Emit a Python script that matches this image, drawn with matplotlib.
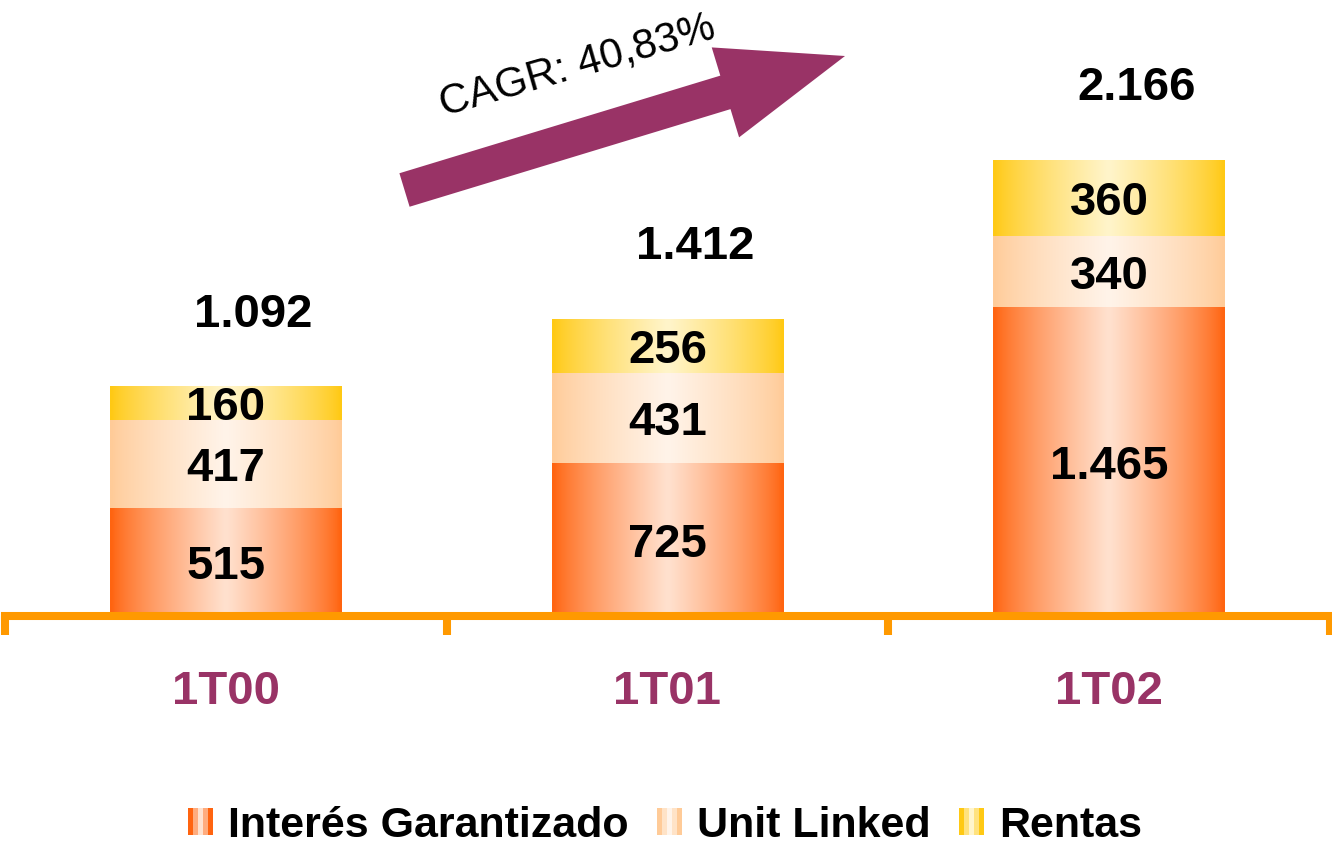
import matplotlib.pyplot as plt
import numpy as np
from matplotlib.patches import FancyArrow, Rectangle
from matplotlib.legend_handler import HandlerBase
from matplotlib.colors import to_rgb

plt.rcParams["font.family"] = "sans-serif"
plt.rcParams["font.sans-serif"] = ["Liberation Sans"]

quarters = ["1T00", "1T01", "1T02"]
garantizado = [515, 725, 1465]
unit_linked = [417, 431, 340]
rentas = [160, 256, 360]
totales = [1092, 1412, 2166]
cagr_text = "CAGR: 40,83%"

# name, values, edge colour, centre colour
series = [
    ("Interés Garantizado", garantizado, "#FF6410", "#FFE2D0"),
    ("Unit Linked", unit_linked, "#FFCB98", "#FFF4EA"),
    ("Rentas", rentas, "#FFC914", "#FFF5CC"),
]

PURPLE = "#993366"
ORANGE = "#FF9900"


def fmt(v):
    return f"{v:,}".replace(",", ".")


def gradient(edge, center, n=64):
    t = np.linspace(0, 1, n)
    s = (1 - np.abs(2 * t - 1)) ** 0.8
    e = np.array(to_rgb(edge))
    c = np.array(to_rgb(center))
    return e[None, :] + (c - e)[None, :] * s[:, None]


class GradientHandler(HandlerBase):
    def __init__(self, stripes):
        super().__init__()
        self.stripes = stripes

    def create_artists(self, legend, orig_handle, xdescent, ydescent,
                       width, height, fontsize, trans):
        n = len(self.stripes)
        w = width / n
        return [Rectangle((-xdescent + i * w, -ydescent), w, height,
                          facecolor=c, edgecolor="none", transform=trans)
                for i, c in enumerate(self.stripes)]


fig = plt.figure(figsize=(13.32, 8.47), dpi=100)
ax = fig.add_axes([5 / 1332, 231 / 847, 1325 / 1332, 616 / 847])

x = np.arange(len(quarters))
bottom = np.zeros(len(quarters))
handles, labels, hmap = [], [], {}
for name, vals, edge, center in series:
    bars = ax.bar(x, vals, 0.525, bottom=bottom, color=edge, linewidth=0, zorder=1)
    grad = gradient(edge, center)[None, :, :]
    for b in bars:
        ax.imshow(grad, extent=[b.get_x(), b.get_x() + b.get_width(),
                                b.get_y(), b.get_y() + b.get_height()],
                  aspect="auto", interpolation="bilinear", zorder=2)
    for xi, b0, v in zip(x, bottom, vals):
        ax.text(xi, b0 + v / 2, fmt(v), ha="center", va="center_baseline",
                fontsize=34, fontweight="bold", zorder=4)
    bottom = bottom + np.array(vals)
    handles.append(bars[0])
    labels.append(name)
    hmap[bars[0]] = GradientHandler(list(gradient(edge, center, n=5)))

for xi, tot in zip(x, totales):
    ax.annotate(fmt(tot), xy=(xi + 0.063, tot), xytext=(0, 55),
                textcoords="offset points", ha="center", va="center_baseline",
                fontsize=34, fontweight="bold")

ax.set_xlim(-0.5, 2.5)
ax.set_ylim(0, 2925)
for s in ["top", "left", "right"]:
    ax.spines[s].set_visible(False)
ax.spines["bottom"].set_color(ORANGE)
ax.spines["bottom"].set_linewidth(5.8)
ax.spines["bottom"].set_zorder(5)
ax.set_yticks([])
ax.set_xticks(x, quarters)
ax.set_xticks([-0.5, 0.5, 1.5, 2.5], minor=True)
ax.tick_params(axis="x", which="major", length=0, pad=39, labelsize=34,
               labelcolor=PURPLE)
ax.tick_params(axis="x", which="minor", length=14, width=5.8, color=ORANGE,
               direction="out")
for t in ax.get_xticklabels():
    t.set_fontweight("bold")

# growth arrow
arrow = FancyArrow(4.045, 6.57, 4.405, 1.34, width=0.35, head_width=0.94,
                   head_length=1.25, length_includes_head=True,
                   transform=fig.dpi_scale_trans, color=PURPLE, linewidth=0)
fig.add_artist(arrow)
fig.text(577 / 1332, 1 - 66 / 847, cagr_text, rotation=16, rotation_mode="anchor",
         ha="center", va="center", fontsize=30)

fig.legend(handles, labels, loc="center", bbox_to_anchor=(0.4993, 1 - 826 / 847),
           ncol=3, frameon=False, prop={"size": 31, "weight": "bold"},
           handlelength=0.58, handleheight=0.58, handletextpad=0.35,
           columnspacing=0.65, borderpad=0, handler_map=hmap)

fig.savefig("out.png", dpi=100)
